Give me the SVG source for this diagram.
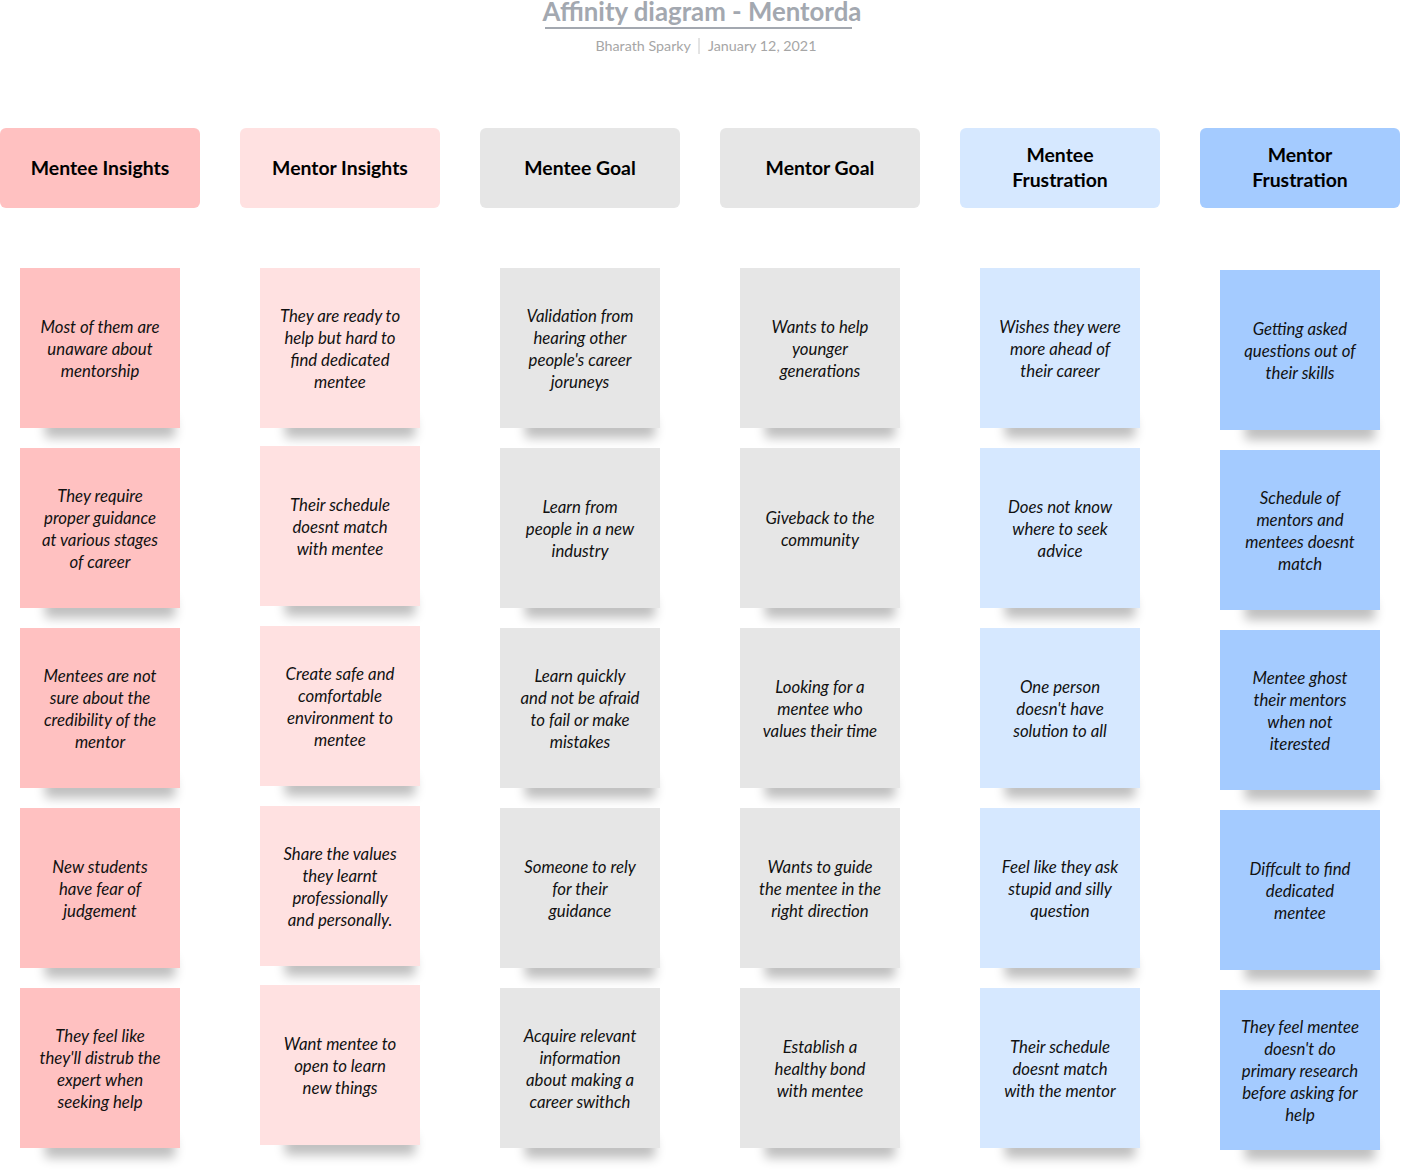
<svg xmlns="http://www.w3.org/2000/svg" width="1401" height="1170" viewBox="0 0 1401 1170">
<defs>
<filter id="blur" x="-30%" y="-100%" width="160%" height="300%"><feGaussianBlur stdDeviation="5.5"/></filter>
<style>
.title{font-family:"Source Sans Pro","Lato","Noto Sans",sans-serif;font-weight:700;font-size:25.8px;fill:#A3A8B0}
.sub{font-family:"Source Sans Pro","Lato","Noto Sans",sans-serif;font-size:14.3px;fill:#A6A6A6}
.hd{font-family:"Source Sans Pro","Lato","Noto Sans",sans-serif;font-weight:700;font-size:19.4px;fill:#000;text-anchor:middle}
.tx{font-family:"Source Sans Pro","Lato","Noto Sans",sans-serif;font-style:italic;font-size:16.8px;fill:#111;text-anchor:middle}
.sh{fill:#000;opacity:0.25;filter:url(#blur)}
.c0{fill:#FFC1C1}.c1{fill:#FFE1E1}.c2{fill:#E6E6E6}.c4{fill:#D6E8FF}.c5{fill:#A4CBFF}
</style>
</defs>
<rect width="1401" height="1170" fill="#fff"/>
<g id="title">
<text class="title" x="702" y="21" text-anchor="middle">Affinity diagram - Mentorda</text>
<line x1="545" y1="28" x2="852" y2="28" stroke="#A3A8B0" stroke-width="2"/>
<text class="sub" x="691" y="51" text-anchor="end">Bharath Sparky</text>
<line x1="699" y1="38" x2="699" y2="54" stroke="#C8C8C8" stroke-width="1"/>
<text class="sub" x="708" y="51">January 12, 2021</text>
</g>
<g id="headers">
<g id="h0"><rect class="c0" x="0" y="128" width="200" height="80" rx="6"/><text class="hd" x="100" y="175">Mentee Insights</text></g>
<g id="h1"><rect class="c1" x="240" y="128" width="200" height="80" rx="6"/><text class="hd" x="340" y="175">Mentor Insights</text></g>
<g id="h2"><rect class="c2" x="480" y="128" width="200" height="80" rx="6"/><text class="hd" x="580" y="175">Mentee Goal</text></g>
<g id="h3"><rect class="c2" x="720" y="128" width="200" height="80" rx="6"/><text class="hd" x="820" y="175">Mentor Goal</text></g>
<g id="h4"><rect class="c4" x="960" y="128" width="200" height="80" rx="6"/><text class="hd" x="1060" y="162">Mentee<tspan x="1060" y="187">Frustration</tspan></text></g>
<g id="h5"><rect class="c5" x="1200" y="128" width="200" height="80" rx="6"/><text class="hd" x="1300" y="162">Mentor<tspan x="1300" y="187">Frustration</tspan></text></g>
</g>
<g id="col0">
<g id="n0-1"><rect class="sh" x="45" y="418" width="130" height="20"/><rect class="c0" x="20" y="268" width="160" height="160"/><text class="tx" x="100" y="333">Most of them are<tspan x="100" y="355">unaware about</tspan><tspan x="100" y="377">mentorship</tspan></text></g>
<g id="n0-2"><rect class="sh" x="45" y="598" width="130" height="20"/><rect class="c0" x="20" y="448" width="160" height="160"/><text class="tx" x="100" y="502">They require<tspan x="100" y="524">proper guidance</tspan><tspan x="100" y="546">at various stages</tspan><tspan x="100" y="568">of career</tspan></text></g>
<g id="n0-3"><rect class="sh" x="45" y="778" width="130" height="20"/><rect class="c0" x="20" y="628" width="160" height="160"/><text class="tx" x="100" y="682">Mentees are not<tspan x="100" y="704">sure about the</tspan><tspan x="100" y="726">credibility of the</tspan><tspan x="100" y="748">mentor</tspan></text></g>
<g id="n0-4"><rect class="sh" x="45" y="958" width="130" height="20"/><rect class="c0" x="20" y="808" width="160" height="160"/><text class="tx" x="100" y="873">New students<tspan x="100" y="895">have fear of</tspan><tspan x="100" y="917">judgement</tspan></text></g>
<g id="n0-5"><rect class="sh" x="45" y="1138" width="130" height="20"/><rect class="c0" x="20" y="988" width="160" height="160"/><text class="tx" x="100" y="1042">They feel like<tspan x="100" y="1064">they'll distrub the</tspan><tspan x="100" y="1086">expert when</tspan><tspan x="100" y="1108">seeking help</tspan></text></g>
</g>
<g id="col1">
<g id="n1-1"><rect class="sh" x="285" y="418" width="130" height="20"/><rect class="c1" x="260" y="268" width="160" height="160"/><text class="tx" x="340" y="322">They are ready to<tspan x="340" y="344">help but hard to</tspan><tspan x="340" y="366">find dedicated</tspan><tspan x="340" y="388">mentee</tspan></text></g>
<g id="n1-2"><rect class="sh" x="285" y="596" width="130" height="20"/><rect class="c1" x="260" y="446" width="160" height="160"/><text class="tx" x="340" y="511">Their schedule<tspan x="340" y="533">doesnt match</tspan><tspan x="340" y="555">with mentee</tspan></text></g>
<g id="n1-3"><rect class="sh" x="285" y="776" width="130" height="20"/><rect class="c1" x="260" y="626" width="160" height="160"/><text class="tx" x="340" y="680">Create safe and<tspan x="340" y="702">comfortable</tspan><tspan x="340" y="724">environment to</tspan><tspan x="340" y="746">mentee</tspan></text></g>
<g id="n1-4"><rect class="sh" x="285" y="956" width="130" height="20"/><rect class="c1" x="260" y="806" width="160" height="160"/><text class="tx" x="340" y="860">Share the values<tspan x="340" y="882">they learnt</tspan><tspan x="340" y="904">professionally</tspan><tspan x="340" y="926">and personally.</tspan></text></g>
<g id="n1-5"><rect class="sh" x="285" y="1135" width="130" height="20"/><rect class="c1" x="260" y="985" width="160" height="160"/><text class="tx" x="340" y="1050">Want mentee to<tspan x="340" y="1072">open to learn</tspan><tspan x="340" y="1094">new things</tspan></text></g>
</g>
<g id="col2">
<g id="n2-1"><rect class="sh" x="525" y="418" width="130" height="20"/><rect class="c2" x="500" y="268" width="160" height="160"/><text class="tx" x="580" y="322">Validation from<tspan x="580" y="344">hearing other</tspan><tspan x="580" y="366">people's career</tspan><tspan x="580" y="388">joruneys</tspan></text></g>
<g id="n2-2"><rect class="sh" x="525" y="598" width="130" height="20"/><rect class="c2" x="500" y="448" width="160" height="160"/><text class="tx" x="580" y="513">Learn from<tspan x="580" y="535">people in a new</tspan><tspan x="580" y="557">industry</tspan></text></g>
<g id="n2-3"><rect class="sh" x="525" y="778" width="130" height="20"/><rect class="c2" x="500" y="628" width="160" height="160"/><text class="tx" x="580" y="682">Learn quickly<tspan x="580" y="704">and not be afraid</tspan><tspan x="580" y="726">to fail or make</tspan><tspan x="580" y="748">mistakes</tspan></text></g>
<g id="n2-4"><rect class="sh" x="525" y="958" width="130" height="20"/><rect class="c2" x="500" y="808" width="160" height="160"/><text class="tx" x="580" y="873">Someone to rely<tspan x="580" y="895">for their</tspan><tspan x="580" y="917">guidance</tspan></text></g>
<g id="n2-5"><rect class="sh" x="525" y="1138" width="130" height="20"/><rect class="c2" x="500" y="988" width="160" height="160"/><text class="tx" x="580" y="1042">Acquire relevant<tspan x="580" y="1064">information</tspan><tspan x="580" y="1086">about making a</tspan><tspan x="580" y="1108">career swithch</tspan></text></g>
</g>
<g id="col3">
<g id="n3-1"><rect class="sh" x="765" y="418" width="130" height="20"/><rect class="c2" x="740" y="268" width="160" height="160"/><text class="tx" x="820" y="333">Wants to help<tspan x="820" y="355">younger</tspan><tspan x="820" y="377">generations</tspan></text></g>
<g id="n3-2"><rect class="sh" x="765" y="598" width="130" height="20"/><rect class="c2" x="740" y="448" width="160" height="160"/><text class="tx" x="820" y="524">Giveback to the<tspan x="820" y="546">community</tspan></text></g>
<g id="n3-3"><rect class="sh" x="765" y="778" width="130" height="20"/><rect class="c2" x="740" y="628" width="160" height="160"/><text class="tx" x="820" y="693">Looking for a<tspan x="820" y="715">mentee who</tspan><tspan x="820" y="737">values their time</tspan></text></g>
<g id="n3-4"><rect class="sh" x="765" y="958" width="130" height="20"/><rect class="c2" x="740" y="808" width="160" height="160"/><text class="tx" x="820" y="873">Wants to guide<tspan x="820" y="895">the mentee in the</tspan><tspan x="820" y="917">right direction</tspan></text></g>
<g id="n3-5"><rect class="sh" x="765" y="1138" width="130" height="20"/><rect class="c2" x="740" y="988" width="160" height="160"/><text class="tx" x="820" y="1053">Establish a<tspan x="820" y="1075">healthy bond</tspan><tspan x="820" y="1097">with mentee</tspan></text></g>
</g>
<g id="col4">
<g id="n4-1"><rect class="sh" x="1005" y="418" width="130" height="20"/><rect class="c4" x="980" y="268" width="160" height="160"/><text class="tx" x="1060" y="333">Wishes they were<tspan x="1060" y="355">more ahead of</tspan><tspan x="1060" y="377">their career</tspan></text></g>
<g id="n4-2"><rect class="sh" x="1005" y="598" width="130" height="20"/><rect class="c4" x="980" y="448" width="160" height="160"/><text class="tx" x="1060" y="513">Does not know<tspan x="1060" y="535">where to seek</tspan><tspan x="1060" y="557">advice</tspan></text></g>
<g id="n4-3"><rect class="sh" x="1005" y="778" width="130" height="20"/><rect class="c4" x="980" y="628" width="160" height="160"/><text class="tx" x="1060" y="693">One person<tspan x="1060" y="715">doesn't have</tspan><tspan x="1060" y="737">solution to all</tspan></text></g>
<g id="n4-4"><rect class="sh" x="1005" y="958" width="130" height="20"/><rect class="c4" x="980" y="808" width="160" height="160"/><text class="tx" x="1060" y="873">Feel like they ask<tspan x="1060" y="895">stupid and silly</tspan><tspan x="1060" y="917">question</tspan></text></g>
<g id="n4-5"><rect class="sh" x="1005" y="1138" width="130" height="20"/><rect class="c4" x="980" y="988" width="160" height="160"/><text class="tx" x="1060" y="1053">Their schedule<tspan x="1060" y="1075">doesnt match</tspan><tspan x="1060" y="1097">with the mentor</tspan></text></g>
</g>
<g id="col5">
<g id="n5-1"><rect class="sh" x="1245" y="420" width="130" height="20"/><rect class="c5" x="1220" y="270" width="160" height="160"/><text class="tx" x="1300" y="335">Getting asked<tspan x="1300" y="357">questions out of</tspan><tspan x="1300" y="379">their skills</tspan></text></g>
<g id="n5-2"><rect class="sh" x="1245" y="600" width="130" height="20"/><rect class="c5" x="1220" y="450" width="160" height="160"/><text class="tx" x="1300" y="504">Schedule of<tspan x="1300" y="526">mentors and</tspan><tspan x="1300" y="548">mentees doesnt</tspan><tspan x="1300" y="570">match</tspan></text></g>
<g id="n5-3"><rect class="sh" x="1245" y="780" width="130" height="20"/><rect class="c5" x="1220" y="630" width="160" height="160"/><text class="tx" x="1300" y="684">Mentee ghost<tspan x="1300" y="706">their mentors</tspan><tspan x="1300" y="728">when not</tspan><tspan x="1300" y="750">iterested</tspan></text></g>
<g id="n5-4"><rect class="sh" x="1245" y="960" width="130" height="20"/><rect class="c5" x="1220" y="810" width="160" height="160"/><text class="tx" x="1300" y="875">Diffcult to find<tspan x="1300" y="897">dedicated</tspan><tspan x="1300" y="919">mentee</tspan></text></g>
<g id="n5-5"><rect class="sh" x="1245" y="1140" width="130" height="20"/><rect class="c5" x="1220" y="990" width="160" height="160"/><text class="tx" x="1300" y="1033">They feel mentee<tspan x="1300" y="1055">doesn't do</tspan><tspan x="1300" y="1077">primary research</tspan><tspan x="1300" y="1099">before asking for</tspan><tspan x="1300" y="1121">help</tspan></text></g>
</g>
<g id="connectors"/>
</svg>
